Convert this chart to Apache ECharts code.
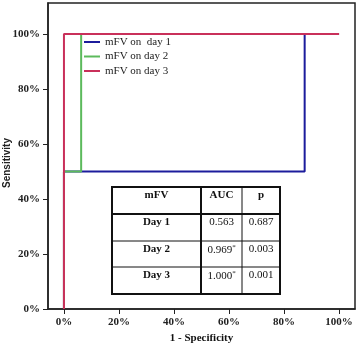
<!DOCTYPE html>
<html>
<head>
<meta charset="utf-8">
<script src="https://cdn.jsdelivr.net/npm/echarts@6/dist/echarts.min.js"></script>
<style>
    html, body { margin: 0; padding: 0; background: #fff; }
    #chart { width: 358px; height: 347px; }
</style>
</head>
<body>
<div id="chart"></div>
<script>
// ROC curves (1 - specificity, sensitivity) in %
var seriesNames = ['mFV on  day 1', 'mFV on day 2', 'mFV on day 3'];
var seriesColors = ['#1c1c9c', '#5cba5c', '#c9305a'];
var day1Points = [[0, 0], [0, 50], [87.5, 50], [87.5, 100], [100, 100]];
var day2Points = [[0, 0], [0, 50], [6.25, 50], [6.25, 100], [100, 100]];
var day3Points = [[0, 0], [0, 100], [100, 100]];
var tickValues = [0, 20, 40, 60, 80, 100];

// inset table
var tableHeader = ['mFV', 'AUC', 'p'];
var tableDays = ['Day 1', 'Day 2', 'Day 3'];
var aucValues = ['0.563', '0.969', '1.000'];
var aucMarks = ['', '*', '*'];
var pValues = ['0.687', '0.003', '0.001'];

var serif = '"Liberation Serif", "Times New Roman", serif';

(function () {
    var chart = echarts.init(document.getElementById('chart'));

    // table layout (pixels)
    var colX = [112, 201, 242, 280];
    var rowY = [187, 214, 241, 267, 294];

    var tableGraphic = [];
    tableGraphic.push({
        type: 'rect', z: 100,
        shape: { x: colX[0], y: rowY[0], width: colX[3] - colX[0], height: rowY[4] - rowY[0] },
        style: { fill: '#fff', stroke: '#111', lineWidth: 2 }
    });
    // row separators
    for (var r = 1; r < rowY.length - 1; r++) {
        tableGraphic.push({
            type: 'line', z: 101,
            shape: { x1: colX[0], y1: rowY[r], x2: colX[3], y2: rowY[r] },
            style: { stroke: '#111', lineWidth: r === 1 ? 2 : 1 }
        });
    }
    // column separators
    for (var c = 1; c < colX.length - 1; c++) {
        tableGraphic.push({
            type: 'line', z: 101,
            shape: { x1: colX[c], y1: rowY[0], x2: colX[c], y2: rowY[4] },
            style: { stroke: '#111', lineWidth: c === 1 ? 2 : 1 }
        });
    }

    var cellText = function (col, row, text, bold) {
        return {
            type: 'text', z: 102,
            x: (colX[col] + colX[col + 1]) / 2,
            y: rowY[row] + 3,
            style: {
                text: text,
                align: 'center',
                verticalAlign: 'top',
                fill: '#111',
                font: (bold ? 'bold ' : '') + '11px ' + serif,
                rich: {
                    sup: { fontSize: 7, verticalAlign: 'top', padding: [0, 0, 5, 0], fontFamily: serif }
                }
            }
        };
    };

    for (var h = 0; h < tableHeader.length; h++) {
        tableGraphic.push(cellText(h, 0, tableHeader[h], true));
    }
    for (var i = 0; i < tableDays.length; i++) {
        tableGraphic.push(cellText(0, i + 1, tableDays[i], true));
        var auc = aucValues[i] + (aucMarks[i] ? '{sup|' + aucMarks[i] + '}' : '');
        tableGraphic.push(cellText(1, i + 1, auc, false));
        tableGraphic.push(cellText(2, i + 1, pValues[i], false));
    }

    // y axis title, placed by hand (sits a bit below the axis middle)
    tableGraphic.push({
        type: 'text',
        x: 7, y: 163,
        rotation: Math.PI / 2,
        style: {
            text: 'Sensitivity',
            align: 'center',
            verticalAlign: 'middle',
            fill: '#222',
            font: 'bold 10px "Liberation Sans", Arial, sans-serif'
        }
    });

    var option = {
        backgroundColor: '#fff',
        animation: false,
        grid: {
            left: 48, right: 3, top: 3, bottom: 38,
            containLabel: false,
            outerBoundsMode: 'none',
            show: true,
            borderColor: '#222',
            borderWidth: 1.5
        },
        legend: {
            left: 84, top: 36,
            padding: 0,
            orient: 'vertical',
            icon: 'rect',
            itemWidth: 16, itemHeight: 2,
            itemGap: 2.5,
            data: seriesNames,
            textStyle: { fontFamily: serif, fontSize: 11, color: '#222', lineHeight: 12 }
        },
        xAxis: {
            type: 'value',
            min: -5.8, max: 105.8,
            name: '1 - Specificity',
            nameLocation: 'middle',
            nameGap: 24,
            nameMoveOverlap: false,
            nameTextStyle: { fontFamily: serif, fontWeight: 'bold', fontSize: 11, color: '#111' },
            axisLine: { show: true, onZero: false, lineStyle: { color: '#222', width: 1.5 } },
            axisTick: { show: true, length: 5, customValues: tickValues, lineStyle: { color: '#222' } },
            axisLabel: {
                customValues: tickValues,
                formatter: '{value}%',
                margin: 8,
                fontFamily: serif, fontWeight: 'bold', fontSize: 11, color: '#222'
            },
            splitLine: { show: false }
        },
        yAxis: {
            type: 'value',
            min: 0, max: 111.3,
            axisLine: { show: true, onZero: false, lineStyle: { color: '#222', width: 1.5 } },
            axisTick: { show: true, length: 5, customValues: tickValues, lineStyle: { color: '#222' } },
            axisLabel: {
                customValues: tickValues,
                formatter: '{value}%',
                margin: 8,
                fontFamily: serif, fontWeight: 'bold', fontSize: 11, color: '#222'
            },
            splitLine: { show: false }
        },
        series: [
            { name: seriesNames[0], type: 'line', data: day1Points, z: 2 },
            { name: seriesNames[1], type: 'line', data: day2Points, z: 3 },
            { name: seriesNames[2], type: 'line', data: day3Points, z: 4 }
        ].map(function (s, idx) {
            s.showSymbol = false;
            s.symbol = 'none';
            s.color = seriesColors[idx];
            s.lineStyle = { width: 2, color: seriesColors[idx] };
            return s;
        }),
        graphic: tableGraphic
    };

    chart.setOption(option);
})();
</script>
</body>
</html>
